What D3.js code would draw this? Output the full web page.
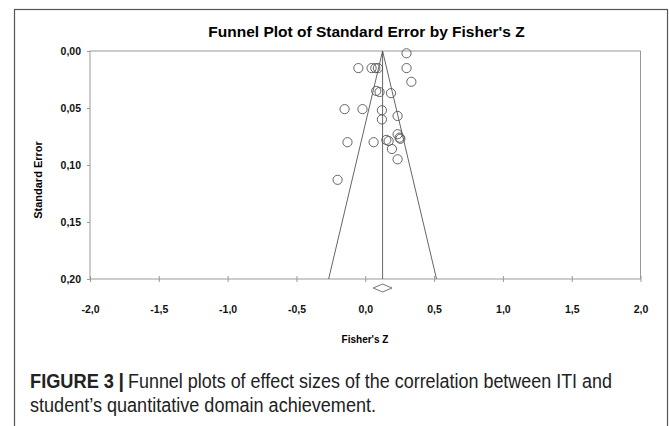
<!DOCTYPE html>
<head>
<meta charset="utf-8">
<style>
  body { margin: 0; background: #fff; }
  svg text { font-family: "Liberation Sans", Arial, sans-serif; }
</style>
<script src="https://d3js.org/d3.v7.min.js"></script>
</head>
<body>
<script>
// study effect sizes (Fisher's Z) and their standard errors
var fisherZ = [0.30, -0.05, 0.046, 0.073, 0.092, 0.30, 0.335, 0.08, 0.104, 0.187,
               -0.15, -0.02, 0.121, 0.121, 0.235, -0.129, 0.061, 0.153, 0.17, 0.235,
               0.25, 0.255, 0.194, 0.235, -0.201];
var stdErr  = [0.002, 0.015, 0.015, 0.015, 0.015, 0.015, 0.027, 0.035, 0.036, 0.037,
               0.051, 0.051, 0.052, 0.060, 0.057, 0.080, 0.080, 0.078, 0.079, 0.073,
               0.076, 0.077, 0.086, 0.095, 0.113];
var meanZ = 0.126, meanLo = 0.058, meanHi = 0.194;
var xTicks = [-2, -1.5, -1, -0.5, 0, 0.5, 1, 1.5, 2];
var yTicks = [0, 0.05, 0.10, 0.15, 0.20];

(function() {
  var width = 669, height = 426;
  var svg = d3.select("body").append("svg").attr("width", width).attr("height", height);

  // outer figure frame
  svg.append("rect").attr("x", 14.5).attr("y", 9.5).attr("width", 653).attr("height", 430)
    .attr("fill", "none").attr("stroke", "#555").attr("stroke-width", 1.2);

  var pl = 90, pr = 640.5, pt = 51, pb = 279;
  var x = d3.scaleLinear().domain([-2, 2]).range([pl, pr]);
  var y = d3.scaleLinear().domain([0, 0.2]).range([pt, pb]);
  var fmt = function(d, n) { return d.toFixed(n).replace(".", ","); };

  svg.append("text").attr("x", 366.5).attr("y", 36.5).attr("text-anchor", "middle")
    .attr("font-size", "15.5px").attr("font-weight", "bold").text("Funnel Plot of Standard Error by Fisher's Z");

  // plot box
  svg.append("rect").attr("x", pl).attr("y", pt).attr("width", pr - pl).attr("height", pb - pt)
    .attr("fill", "none").attr("stroke", "#999").attr("stroke-width", 1);

  var yAxis = svg.append("g").attr("transform", "translate(" + pl + ",0)")
    .call(d3.axisLeft(y).tickValues(yTicks).tickSize(3).tickPadding(6).tickFormat(function(d) { return fmt(d, 2); }));
  var xAxis = svg.append("g").attr("transform", "translate(0," + pb + ")")
    .call(d3.axisBottom(x).tickValues(xTicks).tickSize(3).tickPadding(24).tickFormat(function(d) { return fmt(d, 1); }));
  [xAxis, yAxis].forEach(function(a) {
    a.select(".domain").remove();
    a.selectAll(".tick line").attr("stroke", "#999");
    a.selectAll("text").attr("font-size", "10.5px").attr("font-weight", "bold").attr("fill", "#111")
      .attr("font-family", "Liberation Sans, Arial, sans-serif");
  });
  xAxis.selectAll(".tick line").attr("y1", -3);

  svg.append("text").attr("x", 365).attr("y", 343).attr("text-anchor", "middle")
    .attr("font-size", "10px").attr("font-weight", "bold").text("Fisher's Z");
  svg.append("text").attr("transform", "translate(42,180) rotate(-90)").attr("text-anchor", "middle")
    .attr("font-size", "11px").attr("font-weight", "bold").text("Standard Error");

  // funnel and mean line
  var seMax = 0.2;
  var funnel = [[meanZ - 1.96 * seMax, seMax], [meanZ, 0], [meanZ + 1.96 * seMax, seMax]];
  svg.append("path").attr("d", d3.line().x(function(d) { return x(d[0]); }).y(function(d) { return y(d[1]); })(funnel))
    .attr("fill", "none").attr("stroke", "#555").attr("stroke-width", 0.9);
  svg.append("line").attr("x1", x(meanZ)).attr("x2", x(meanZ)).attr("y1", y(0)).attr("y2", y(seMax))
    .attr("stroke", "#555").attr("stroke-width", 0.9);

  // summary diamond
  var dy = pb + 9;
  svg.append("path")
    .attr("d", "M" + x(meanLo) + "," + dy + "L" + x(meanZ) + "," + (dy - 4) + "L" + x(meanHi) + "," + dy + "L" + x(meanZ) + "," + (dy + 4) + "Z")
    .attr("fill", "none").attr("stroke", "#666").attr("stroke-width", 0.9);

  svg.selectAll("circle.pt").data(fisherZ).enter().append("circle")
    .attr("class", "pt")
    .attr("cx", function(d) { return x(d); })
    .attr("cy", function(d, i) { return y(stdErr[i]); })
    .attr("r", 4.6).attr("fill", "none").attr("stroke", "#555").attr("stroke-width", 0.9);

  // caption
  svg.append("text").attr("x", 30).attr("y", 388).attr("font-size", "19.5px").attr("fill", "#222")
    .attr("font-weight", "bold").attr("textLength", 84).attr("lengthAdjust", "spacingAndGlyphs").text("FIGURE 3");
  svg.append("text").attr("x", 118.5).attr("y", 388).attr("font-size", "19.5px").attr("fill", "#222")
    .attr("font-weight", "bold").text("|");
  svg.append("text").attr("x", 128).attr("y", 388).attr("font-size", "19.5px").attr("fill", "#222")
    .attr("textLength", 484).attr("lengthAdjust", "spacingAndGlyphs")
    .text("Funnel plots of effect sizes of the correlation between ITI and");
  svg.append("text").attr("x", 30).attr("y", 412).attr("font-size", "19.5px").attr("fill", "#222")
    .attr("textLength", 346).attr("lengthAdjust", "spacingAndGlyphs")
    .text("student\u2019s quantitative domain achievement.");
})();
</script>
</body>
</html>
